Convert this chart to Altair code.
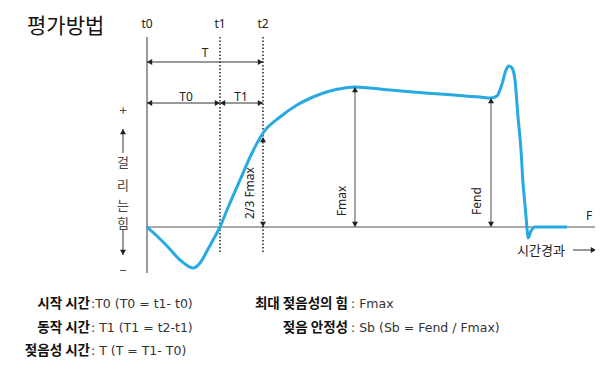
import altair as alt
import pandas as pd

# ---- curve (wetting force vs. time), in diagram pixel units ----
curve_x = [147, 157, 167, 180, 193, 200, 207, 213, 220, 227, 240, 252, 263, 280, 297, 313, 330, 345, 355,
           370, 390, 413, 440, 465, 480, 491, 497, 502, 506, 509, 512, 515, 518, 521, 523, 525, 527, 528,
           531, 535, 567]
curve_y = [227, 236, 246, 260, 268, 263, 251, 240, 227, 210, 180, 153, 133, 117, 105, 97, 91, 88, 87,
           88, 90, 92, 94, 96, 97, 98, 96, 84, 70, 66, 68, 80, 117, 150, 183, 205, 228, 238,
           231, 227, 227]

# ---- line segments: x1, y1, x2, y2 ----
axis_seg = [(147, 37, 147, 273)]
base_seg = [(147, 227, 598, 227)]
dotted_seg = [(220, 37, 220, 252), (263, 37, 263, 252)]
dark_arrows = [(147, 62, 263, 62, "both"), (147, 103, 220, 103, "both"), (220, 103, 263, 103, "both"),
               (573, 250, 596, 250, "end"), (123, 153, 123, 129, "end"), (123, 230, 123, 255, "end")]
gray_arrows = [(355, 87, 355, 227, "both"), (491, 98, 491, 227, "both")]
ghost_arrows = [(263, 137, 263, 227, "both")]

# ---- texts ----
title = ["평가방법"]
tick_labels = ["t0", "t1", "t2", "T", "T0", "T1", "F"]
tick_xy = [(147, 24), (220, 24), (263, 24), (205, 53), (186, 97), (241, 97), (589, 216)]
vert_labels = ["2/3 Fmax", "Fmax", "Fend"]
vert_xy = [(250, 193), (342, 201), (477, 201)]
side_labels = ["+", "걸", "리", "는", "힘", "−"]
side_xy = [(123, 111), (123, 163), (123, 186), (123, 206), (123, 224), (123, 271)]
bold_left = ["시작 시간", "동작 시간", "젖음성 시간"]
desc_left = [":T0 (T0 = t1- t0)", ": T1 (T1 = t2-t1)", ": T (T = T1- T0)"]
bold_right = ["최대 젖음성의 힘", "젖음 안정성"]
desc_right = [":  Fmax", ":  Sb (Sb = Fend / Fmax)"]
row_y = [304, 328, 351]

FONT = "Noto Sans CJK KR"
LATIN = "Noto Sans"
WIDE = "DejaVu Sans"
xs = alt.Scale(domain=[8, 595], nice=False, zero=False)
ys = alt.Scale(domain=[364, 8], nice=False, zero=False)
X = lambda f="x": alt.X(f"{f}:Q", scale=xs, axis=None)
Y = lambda f="y": alt.Y(f"{f}:Q", scale=ys, axis=None)


def seg_df(segs):
    return pd.DataFrame([dict(x=s[0], y=s[1], x2=s[2], y2=s[3]) for s in segs])


def heads(arrows, inset=2.6):
    rows = []
    for x1, y1, x2, y2, kind in arrows:
        dx, dy = x2 - x1, y2 - y1
        L = (dx * dx + dy * dy) ** 0.5
        ux, uy = dx / L, dy / L

        def d(vx, vy):
            if abs(vx) > abs(vy):
                return "right" if vx > 0 else "left"
            return "down" if vy > 0 else "up"
        rows.append(dict(x=x2 - ux * inset, y=y2 - uy * inset, dir=d(ux, uy)))
        if kind == "both":
            rows.append(dict(x=x1 + ux * inset, y=y1 + uy * inset, dir=d(-ux, -uy)))
    return pd.DataFrame(rows)


def rules(segs, **kw):
    return alt.Chart(seg_df(segs)).mark_rule(**kw).encode(x=X(), y=Y(), x2="x2:Q", y2="y2:Q")


def texts(labels, xy, font=FONT, **kw):
    df = pd.DataFrame(dict(text=labels, x=[p[0] for p in xy], y=[p[1] for p in xy]))
    return alt.Chart(df).mark_text(font=font, baseline="middle", **kw).encode(x=X(), y=Y(), text="text:N")


shape_scale = alt.Scale(domain=["up", "down", "left", "right"],
                        range=["triangle-up", "triangle-down", "triangle-left", "triangle-right"])


def arrowheads(arrows, color):
    return alt.Chart(heads(arrows)).mark_point(filled=True, size=36, opacity=1, color=color).encode(
        x=X(), y=Y(), shape=alt.Shape("dir:N", scale=shape_scale, legend=None))


curve = alt.Chart(pd.DataFrame(dict(x=curve_x, y=curve_y, o=range(len(curve_x))))).mark_line(
    color="#27a9e1", strokeWidth=3, interpolate="monotone").encode(x=X(), y=Y(), order="o:Q")

layers = [
    rules(axis_seg, color="#777", strokeWidth=1.5),
    rules(base_seg, color="#555", strokeWidth=1.2),
    rules(dotted_seg, color="#222", strokeWidth=1.5, strokeDash=[1.5, 2]),
    rules([a[:4] for a in dark_arrows], color="#333", strokeWidth=1),
    rules([a[:4] for a in gray_arrows], color="#888", strokeWidth=1.5),
    curve,
    arrowheads(dark_arrows + ghost_arrows + gray_arrows, "#222"),
    texts(title, [(27, 27)], align="left", fontSize=21, color="#111"),
    texts(tick_labels, tick_xy, font=LATIN, align="center", fontSize=12, color="#222"),
    texts(vert_labels, vert_xy, font=LATIN, align="center", fontSize=12, color="#222", angle=270),
    texts(side_labels, side_xy, align="center", fontSize=13, color="#444"),
    texts(bold_left, [(90, y) for y in row_y], align="right", fontSize=13.5, fontWeight="bold", color="#111"),
    texts(desc_left, [(91, y) for y in row_y], font=WIDE, align="left", fontSize=12.5, color="#333"),
    texts(bold_right, [(348, y) for y in row_y[:2]], align="right", fontSize=13.5, fontWeight="bold", color="#111"),
    texts(desc_right, [(351, y) for y in row_y[:2]], font=WIDE, align="left", fontSize=12.5, color="#333"),
    texts(["시간경과"], [(541, 251)], align="center", fontSize=13, color="#222"),
]

chart = alt.layer(*layers).properties(
    width=587, height=356, padding=0, autosize=alt.AutoSizeParams(type="none"), background="white"
).configure_view(stroke=None)

chart.save("out.html", embed_options={"renderer": "svg", "actions": False})
